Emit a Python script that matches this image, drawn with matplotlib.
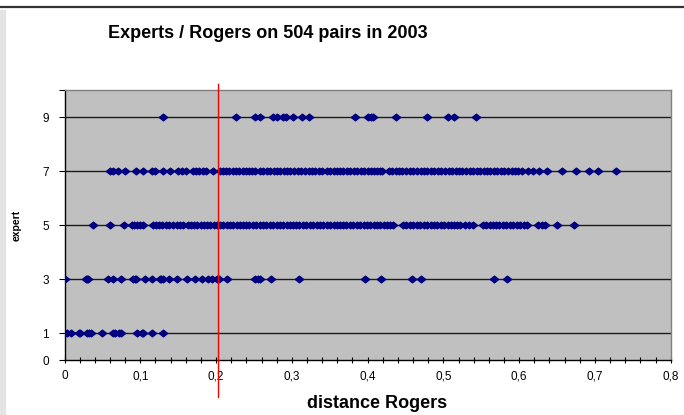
import matplotlib
matplotlib.use("Agg")
import matplotlib.pyplot as plt
from matplotlib.ticker import MultipleLocator, FixedLocator

plt.rcParams['font.family'] = ['Liberation Sans', 'DejaVu Sans']

# Distances de Rogers, par note d'expert
expert_1 = [0.0, 0.003, 0.009, 0.019, 0.021, 0.030, 0.032, 0.035, 0.050, 0.064,
            0.067, 0.072, 0.075, 0.096, 0.102, 0.104, 0.115, 0.130]

expert_3 = [0.0, 0.028, 0.030, 0.031, 0.058, 0.064, 0.075, 0.091, 0.093, 0.095,
            0.106, 0.116, 0.126, 0.128, 0.130, 0.138, 0.149, 0.161, 0.172, 0.181,
            0.190, 0.195, 0.201, 0.204, 0.215, 0.251, 0.256, 0.258, 0.272, 0.310,
            0.396, 0.418, 0.459, 0.471, 0.567, 0.584]

expert_5 = [0.038, 0.060, 0.078, 0.089, 0.092, 0.096, 0.100, 0.103, 0.117, 0.121,
            0.125, 0.129, 0.134, 0.138, 0.143, 0.148, 0.152, 0.156, 0.163, 0.167,
            0.171, 0.175, 0.180, 0.184, 0.188, 0.192, 0.197, 0.201, 0.205, 0.209,
            0.214, 0.218, 0.222, 0.227, 0.231, 0.235, 0.240, 0.244, 0.249, 0.253,
            0.258, 0.262, 0.266, 0.271, 0.275, 0.280, 0.284, 0.288, 0.293, 0.297,
            0.302, 0.306, 0.310, 0.315, 0.319, 0.324, 0.328, 0.333, 0.337, 0.341,
            0.346, 0.350, 0.355, 0.359, 0.364, 0.368, 0.372, 0.377, 0.381, 0.386,
            0.390, 0.395, 0.399, 0.403, 0.408, 0.412, 0.417, 0.421, 0.425, 0.430,
            0.433, 0.447, 0.451, 0.456, 0.460, 0.465, 0.469, 0.474, 0.478, 0.483,
            0.488, 0.492, 0.497, 0.501, 0.506, 0.510, 0.514, 0.518, 0.522, 0.528,
            0.534, 0.539, 0.552, 0.556, 0.561, 0.565, 0.570, 0.574, 0.579, 0.583,
            0.588, 0.592, 0.597, 0.601, 0.606, 0.610, 0.625, 0.630, 0.634, 0.650,
            0.673]

expert_7 = [0.060, 0.064, 0.071, 0.080, 0.095, 0.104, 0.116, 0.120, 0.130, 0.139,
            0.150, 0.155, 0.160, 0.170, 0.174, 0.178, 0.183, 0.187, 0.196, 0.205,
            0.209, 0.213, 0.217, 0.222, 0.226, 0.230, 0.235, 0.239, 0.243, 0.248,
            0.252, 0.258, 0.262, 0.267, 0.271, 0.276, 0.281, 0.285, 0.290, 0.294,
            0.298, 0.303, 0.308, 0.312, 0.318, 0.322, 0.326, 0.331, 0.336, 0.340,
            0.346, 0.351, 0.355, 0.360, 0.364, 0.368, 0.373, 0.377, 0.382, 0.386,
            0.391, 0.395, 0.400, 0.404, 0.408, 0.412, 0.416, 0.419, 0.428, 0.432,
            0.437, 0.441, 0.446, 0.451, 0.456, 0.460, 0.465, 0.470, 0.474, 0.479,
            0.483, 0.488, 0.493, 0.497, 0.502, 0.507, 0.511, 0.516, 0.520, 0.525,
            0.530, 0.535, 0.539, 0.544, 0.548, 0.553, 0.557, 0.562, 0.567, 0.571,
            0.576, 0.580, 0.585, 0.590, 0.594, 0.599, 0.604, 0.612, 0.618, 0.626,
            0.637, 0.657, 0.675, 0.692, 0.704, 0.728]

expert_9 = [0.130, 0.226, 0.251, 0.258, 0.275, 0.280, 0.288, 0.292, 0.301, 0.313,
            0.323, 0.383, 0.401, 0.405, 0.407, 0.438, 0.478, 0.506, 0.514, 0.543]

series = {1: expert_1, 3: expert_3, 5: expert_5, 7: expert_7, 9: expert_9}

y_ticks = [0, 1, 3, 5, 7, 9, 10]
y_labels = ['0', '1', '3', '5', '7', '9', '']
x_ticks = [0, 0.1, 0.2, 0.3, 0.4, 0.5, 0.6, 0.7, 0.8]
x_labels = ['0', '0,1', '0,2', '0,3', '0,4', '0,5', '0,6', '0,7', '0,8']
seuil = 0.2025  # ligne rouge verticale

fig = plt.figure(figsize=(6.84, 4.15), dpi=100)

# Bande grise à gauche et trait en haut (capture d'écran Excel)
fig.patches.append(plt.Rectangle((0, 0), 0.008, 0.975, transform=fig.transFigure,
                                 color='#e4e4e4', zorder=0))
fig.lines.append(plt.Line2D([0, 1], [0.984, 0.984], transform=fig.transFigure,
                            color='#333333', lw=1.6))

ax = fig.add_axes([0.0943, 0.1325, 0.8863, 0.6506])
ax.set_facecolor('#c0c0c0')

# Lignes de grille horizontales
for y in [1, 3, 5, 7, 9]:
    ax.axhline(y, color='#1a1a1a', lw=1.0, zorder=1)

# Losange un peu plus large que haut, comme dans Excel
losange = [(-1, 0), (0, 0.8), (1, 0), (0, -0.8), (-1, 0)]

# Points de chaque note
for note, xs in series.items():
    ax.plot(xs, [note] * len(xs), linestyle='none', marker=losange, markersize=6,
            color='#000080', zorder=3)

ax.plot([seuil, seuil], [-1.37, 10.22], color='#ff0000', lw=1.0, clip_on=False, zorder=4)

ax.set_xlim(0, 0.8)
ax.set_ylim(0, 10)

ax.xaxis.set_major_locator(FixedLocator(x_ticks))
ax.set_xticklabels(x_labels)
ax.xaxis.set_minor_locator(MultipleLocator(0.02))
ax.tick_params(axis='x', which='both', direction='inout', length=5, width=0.8,
               labelsize=8.5, pad=5, color='black')

ax.yaxis.set_major_locator(FixedLocator(y_ticks))
ax.set_yticklabels(y_labels)
ax.tick_params(axis='y', direction='out', length=4.3, width=0.8, labelsize=8.5,
               pad=7, color='black')

for s in ['left', 'bottom']:
    ax.spines[s].set_color('black')
    ax.spines[s].set_linewidth(1.0)
for s in ['top', 'right']:
    ax.spines[s].set_color('#808080')
    ax.spines[s].set_linewidth(1.0)

ax.set_ylabel('expert', fontsize=7.5, fontweight='bold')
ax.yaxis.set_label_coords(-0.071, 0.5)
fig.text(0.551, 0.016, 'distance Rogers', fontsize=13, fontweight='bold', ha='center')
fig.text(0.391, 0.908, 'Experts / Rogers on 504 pairs in 2003', fontsize=13,
         fontweight='bold', ha='center')

plt.savefig('out.png', dpi=100)
